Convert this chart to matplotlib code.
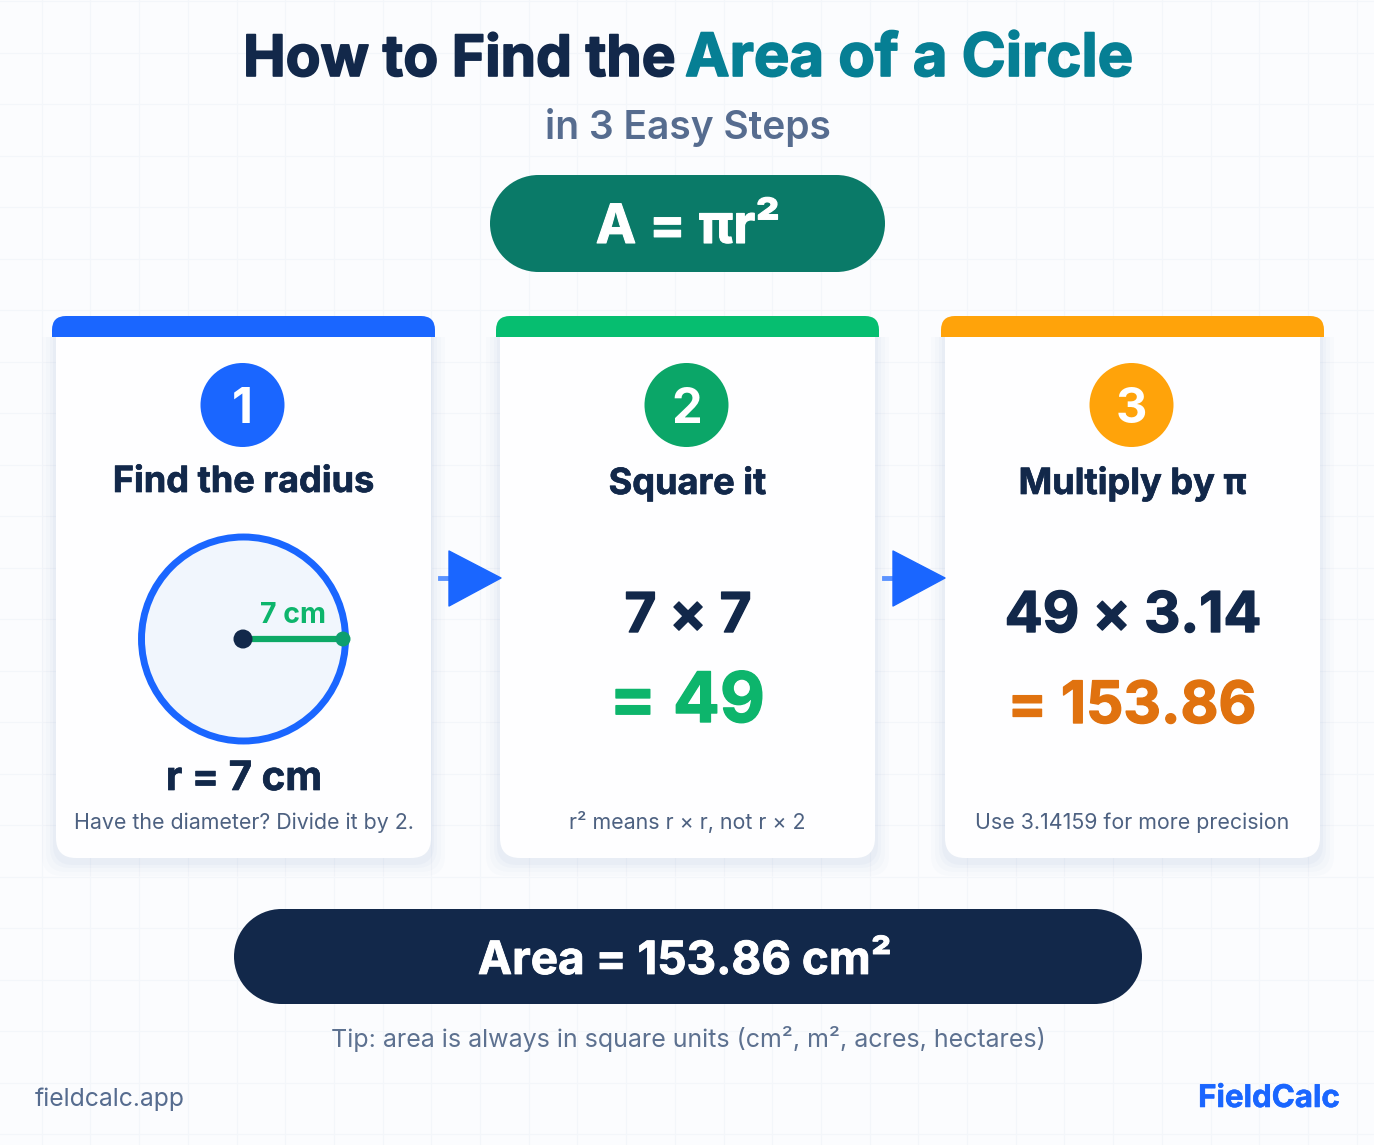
import numpy as np
import matplotlib
matplotlib.use("Agg")
from matplotlib import pyplot as plt
from matplotlib import patheffects as pe
from matplotlib.patches import Circle, FancyBboxPatch, Polygon, Rectangle

plt.rcParams['font.family'] = ['Inter', 'DejaVu Sans']

NAVY = '#12284A'
BLUE = '#1A66FF'
GREEN = '#0BA668'
ORANGE = '#FFA30A'
TEAL = '#0A7A68'

# Content
title_dark = 'How to Find the'
title_teal = 'Area of a Circle'
subtitle = 'in 3 Easy Steps'
formula = 'A = πr²'
step_numbers = ['1', '2', '3']
step_titles = ['Find the radius', 'Square it', 'Multiply by π']
step_colors = [BLUE, GREEN, ORANGE]
bar_colors = [BLUE, '#06BE70', ORANGE]
step_notes = ['Have the diameter? Divide it by 2.', 'r² means r × r, not r × 2',
              'Use 3.14159 for more precision']
calc_lines = ['7 × 7', '49 × 3.14']
calc_results = ['= 49', '= 153.86']
result_colors = ['#0DB56C', '#E0720F']
radius_label = '7 cm'
radius_text = 'r = 7 cm'
answer = 'Area = 153.86 cm²'
tip = 'Tip: area is always in square units (cm², m², acres, hectares)'
site = 'fieldcalc.app'
brand = 'FieldCalc'

fig = plt.figure(figsize=(13.74, 11.45), dpi=100, facecolor='#FBFCFE')
ax = fig.add_axes([0, 0, 1, 1])
ax.set_xlim(0, 1374)
ax.set_ylim(1145, 0)
ax.axis('off')

# faint background grid
for x in np.arange(-7, 1374, 48.7):
    ax.plot([x, x], [0, 1145], color='#F3F6FA', lw=0.8, zorder=0)
for y in np.arange(1, 1145, 51.5):
    ax.plot([0, 1374], [y, y], color='#F3F6FA', lw=0.8, zorder=0)


def pill(x0, y0, x1, y1, color):
    r = (y1 - y0) / 2
    ax.add_patch(Rectangle((x0 + r, y0), x1 - x0 - 2 * r, y1 - y0, fc=color, ec='none', zorder=2))
    ax.add_patch(Circle((x0 + r, y0 + r), r, fc=color, ec='none', zorder=2))
    ax.add_patch(Circle((x1 - r, y0 + r), r, fc=color, ec='none', zorder=2))


def label(x, y, s, color, size, ha='center', weight='normal', fat=0):
    # baseline positioned text, fat thickens the glyphs a little
    t = ax.text(x, y, s, color=color, fontsize=size, fontweight=weight,
                ha=ha, va='baseline', zorder=6)
    if fat:
        t.set_path_effects([pe.withStroke(linewidth=fat, foreground=color)])
    return t


label(675, 76, title_dark, NAVY, 41, ha='right', weight='bold', fat=1.2)
label(685, 76, title_teal, '#067F94', 43, ha='left', weight='bold', fat=1.2)
label(688, 139, subtitle, '#566C8F', 28, weight='semibold')
pill(490, 175, 885, 272, TEAL)
label(688, 243, formula, 'white', 39, weight='bold', fat=0.8)

# step cards
card_lefts = [56, 500, 945]
card_w = 375
name_y = [492, 494, 494]
for i, left in enumerate(card_lefts):
    clip = Rectangle((left - 40, 337), card_w + 80, 560, transform=ax.transData)
    for grow, alpha in zip([14, 10, 6, 3], [0.015, 0.02, 0.025, 0.03]):
        shadow = FancyBboxPatch((left - grow + 20, 320), card_w + 2 * grow - 40, 522 + grow,
                                boxstyle='round,pad=20,rounding_size=20',
                                fc='#3B6FB5', ec='none', alpha=alpha, zorder=1)
        ax.add_patch(shadow)
        shadow.set_clip_path(clip)
    card = FancyBboxPatch((left + 20, 320), card_w - 40, 518,
                          boxstyle='round,pad=20,rounding_size=20',
                          fc='#FEFEFF', ec='none', zorder=2)
    ax.add_patch(card)
    card.set_clip_path(clip)
    # coloured header, only the top corners rounded
    head = FancyBboxPatch((left - 4 + 14, 330), card_w + 8 - 28, 30,
                          boxstyle='round,pad=14,rounding_size=14',
                          fc=bar_colors[i], ec='none', zorder=3)
    ax.add_patch(head)
    head.set_clip_path(Rectangle((left - 10, 310), card_w + 20, 27, transform=ax.transData))

    cx = left + card_w / 2 - 1
    ax.add_patch(Circle((cx, 405), 42, fc=step_colors[i], ec='none', zorder=3))
    label(cx, 423, step_numbers[i], 'white', 35, weight='bold')
    label(cx + 1, name_y[i], step_titles[i], NAVY, 26, weight='bold', fat=0.5)
    label(cx + 1, 829, step_notes[i], '#4D6181', 15.4)

# step 1 diagram
ax.add_patch(Circle((243.5, 639), 102, fc='#F1F6FD', ec=BLUE, lw=5, zorder=3))
ax.plot([243, 343], [639, 639], color='#0DA966', lw=4.5, zorder=4, solid_capstyle='butt')
ax.add_patch(Circle((343, 639), 7.5, fc='#0E9F6E', ec='none', zorder=4))
ax.add_patch(Circle((243, 639), 9.5, fc=NAVY, ec='none', zorder=5))
label(293, 623, radius_label, '#0DB56C', 20.5, weight='bold')
label(244, 790, radius_text, NAVY, 29, weight='bold', fat=0.5)

# step 2 and 3 sums
calc_x = [688, 1133]
calc_sizes = [39.5, 40.5]
result_sizes = [50, 42]
result_y = [722, 723]
for i in range(2):
    label(calc_x[i], 632, calc_lines[i], NAVY, calc_sizes[i], weight='bold', fat=1)
    label(calc_x[i] - 1, result_y[i], calc_results[i], result_colors[i], result_sizes[i],
          weight='bold', fat=1)

# arrows between the cards
for left in [449, 893]:
    ax.plot([left - 9, left], [578, 578], color='#5B93FF', lw=3.5, zorder=4)
    ax.add_patch(Polygon([(left, 551), (left + 52, 578), (left, 606)], closed=True,
                         fc=BLUE, ec=BLUE, lw=1, joinstyle='round', zorder=5))

# answer bar and footer
pill(234, 909, 1142, 1004, NAVY)
label(685, 974, answer, 'white', 33, weight='bold', fat=0.6)
label(688, 1047, tip, '#5D7190', 18)
label(35, 1106, site, '#566C8F', 17.8, ha='left')
label(1340, 1107, brand, BLUE, 22.5, ha='right', weight='bold', fat=0.4)

fig.savefig('out.png', dpi=100)
